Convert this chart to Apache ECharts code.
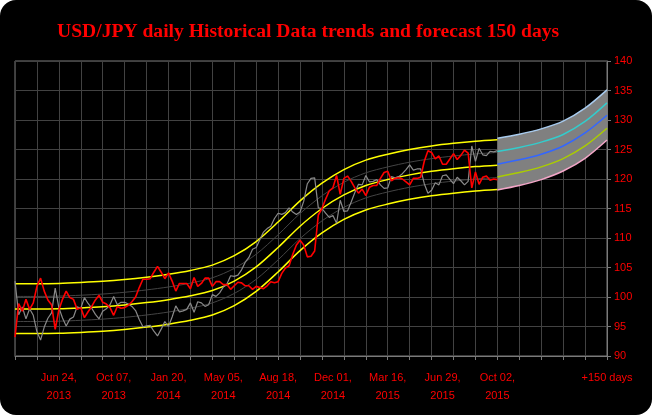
<!DOCTYPE html>
<html>
<head>
<meta charset="utf-8">
<script src="https://cdn.jsdelivr.net/npm/echarts@6/dist/echarts.min.js"></script>
<style>
  html, body { margin: 0; padding: 0; background: #ffffff; }
  #chart { width: 652px; height: 415px; background: #000000; border-radius: 16px; overflow: hidden; }
</style>
</head>
<body>
<div id="chart"></div>
<script>
// ---------- DATA ----------
const titleText = 'USD/JPY daily Historical Data trends and forecast 150 days';
const TOTAL_POINTS = 811;          // index 0 .. 810 (660 history + 150 forecast)
const HIST_STEP = 5;               // red / gray sampled every 5 points
const BAND_STEP = 30;              // trend band sampled every 30 points
const FC_START = 660;              // forecast starts here
const FC_STEP = 30;

const xTickIndex  = [60, 135, 210, 285, 360, 435, 510, 585, 660, 810];
const xTickLabels = ['Jun 24,\n2013', 'Oct 07,\n2013', 'Jan 20,\n2014', 'May 05,\n2014', 'Aug 18,\n2014',
                     'Dec 01,\n2014', 'Mar 16,\n2015', 'Jun 29,\n2015', 'Oct 02,\n2015', '+150 days'];

const redValues = [
  93.2, 98.9, 97.6, 99.6, 97.9, 99.0, 101.8, 103.2, 101.0, 99.5,
  98.7, 94.5, 97.8, 99.6, 101.0, 99.9, 99.6, 97.9, 98.2, 96.5,
  97.5, 98.4, 99.5, 100.3, 99.1, 98.8, 98.2, 96.9, 98.4, 98.1,
  98.2, 98.6, 99.2, 100.0, 101.6, 103.0, 103.0, 103.1, 104.2, 105.2,
  104.2, 103.1, 104.1, 102.7, 101.0, 102.3, 102.3, 102.3, 101.4, 103.3,
  101.8, 102.3, 103.2, 103.2, 101.8, 102.6, 102.6, 102.1, 102.1, 101.3,
  101.9, 102.5, 102.4, 101.9, 101.9, 101.3, 101.8, 101.6, 101.4, 101.9,
  102.6, 102.4, 102.6, 104.0, 104.9, 105.3, 107.2, 108.8, 109.6, 108.8,
  106.8, 106.9, 107.8, 113.9, 115.0, 116.6, 118.0, 118.5, 120.6, 117.4,
  120.1, 120.5, 119.6, 118.5, 117.6, 118.3, 117.2, 118.6, 118.9, 118.9,
  120.1, 121.1, 121.3, 119.7, 120.1, 120.2, 120.0, 119.5, 119.0, 120.1,
  120.1, 120.3, 123.0, 124.8, 124.5, 123.4, 123.9, 122.5, 122.5, 123.4,
  124.3, 123.3, 124.0, 124.9, 124.4, 118.5, 121.2, 119.1, 120.3, 120.5,
  119.8, 120.0, 119.9
];

const grayValues = [
  102.7, 97.0, 98.3, 96.3, 98.0, 96.9, 94.1, 92.7, 94.9, 96.4,
  97.3, 101.5, 98.2, 96.45, 95.1, 96.25, 96.6, 98.35, 98.1, 99.9,
  98.9, 98.1, 97.05, 96.3, 97.6, 98.0, 98.7, 100.1, 98.7, 99.1,
  99.1, 98.8, 98.4, 97.7, 96.2, 94.95, 95.1, 95.2, 94.2, 93.4,
  94.55, 95.85, 95.0, 96.6, 98.5, 97.45, 97.65, 97.9, 99.0, 97.4,
  99.2, 99.0, 98.4, 98.7, 100.4, 100.1, 100.7, 101.7, 102.2, 103.6,
  103.5, 103.7, 104.6, 105.9, 106.7, 108.1, 108.4, 109.7, 111.0, 111.6,
  112.0, 113.3, 114.2, 114.0, 114.3, 115.1, 114.4, 114.0, 114.4, 116.2,
  119.2, 120.1, 120.2, 115.1, 115.0, 114.2, 113.5, 113.8, 112.5, 116.4,
  114.5, 114.6, 116.1, 117.7, 119.1, 119.0, 120.6, 119.5, 119.6, 119.9,
  119.0, 118.4, 118.5, 120.4, 120.2, 120.4, 120.9, 121.6, 122.4, 121.5,
  121.7, 121.7, 119.2, 117.6, 118.1, 119.35, 119.0, 120.55, 120.7, 119.95,
  119.2, 120.3, 119.7, 119.0, 119.6, 125.6, 123.0, 125.2, 124.1, 123.95,
  124.7, 124.6, 124.8
];

const bandUpper = [102.25, 102.25, 102.3, 102.45, 102.65, 102.95, 103.35, 103.85, 104.5, 105.4, 107.0, 109.4,
                   112.7, 116.3, 119.3, 121.6, 123.2, 124.2, 125.0, 125.6, 126.05, 126.4, 126.65];
const bandInnerUpper = [100.1, 100.1, 100.15, 100.3, 100.5, 100.8, 101.2, 101.7, 102.35, 103.25, 104.85, 107.25,
                        110.55, 114.15, 117.15, 119.45, 121.05, 122.05, 122.85, 123.45, 123.9, 124.25, 124.5];
const bandMid = [97.95, 97.95, 98.0, 98.15, 98.35, 98.65, 99.05, 99.55, 100.2, 101.1, 102.7, 105.1,
                 108.4, 112.0, 115.0, 117.3, 118.9, 119.9, 120.7, 121.3, 121.75, 122.1, 122.35];
const bandInnerLower = [95.85, 95.85, 95.9, 96.05, 96.25, 96.55, 96.95, 97.45, 98.1, 99.0, 100.6, 103.0,
                        106.3, 109.9, 112.9, 115.2, 116.8, 117.8, 118.6, 119.2, 119.65, 120.0, 120.25];
const bandLower = [93.8, 93.8, 93.85, 94.0, 94.2, 94.5, 94.9, 95.4, 96.05, 96.95, 98.55, 100.95,
                   104.25, 107.85, 110.85, 113.15, 114.75, 115.75, 116.55, 117.15, 117.6, 117.95, 118.2];

const fcUpper = [126.9, 127.6, 128.5, 129.8, 132.0, 135.1];
const fcCyan  = [124.65, 125.35, 126.25, 127.55, 129.75, 132.9];
const fcBlue  = [122.5, 123.25, 124.2, 125.6, 127.8, 130.8];
const fcGreen = [120.35, 121.1, 122.05, 123.45, 125.6, 128.6];
const fcPink  = [118.15, 118.9, 119.9, 121.35, 123.5, 126.6];

// ---------- BUILD ----------
const categories = Array.from({ length: TOTAL_POINTS }, (_, i) => String(i));
const pairs = (arr, start, step) => arr.map((v, i) => [start + i * step, v]);

function lineSeries(name, data, color, width, smooth, z) {
  return {
    name, type: 'line', data, smooth: smooth ? 0.3 : false,
    showSymbol: false, symbol: 'none', silent: true, z: z || 2,
    lineStyle: { color, width }, emphasis: { disabled: true }
  };
}

const fcBandDiff = fcUpper.map((v, i) => v - fcPink[i]);

const series = [
  lineSeries('innerUpper', pairs(bandInnerUpper, 0, BAND_STEP), '#444444', 1, true, 2),
  lineSeries('innerLower', pairs(bandInnerLower, 0, BAND_STEP), '#444444', 1, true, 2),
  lineSeries('upper', pairs(bandUpper, 0, BAND_STEP), '#ffff00', 1.5, true, 3),
  lineSeries('mid', pairs(bandMid, 0, BAND_STEP), '#ffff00', 1.5, true, 3),
  lineSeries('lower', pairs(bandLower, 0, BAND_STEP), '#ffff00', 1.5, true, 3),
  lineSeries('gray', pairs(grayValues, 0, HIST_STEP), '#8a8a8a', 1.2, false, 4),
  lineSeries('red', pairs(redValues, 0, HIST_STEP), '#ff0000', 1.6, false, 5),
  {
    name: 'fcBase', type: 'line', stack: 'fc', data: pairs(fcPink, FC_START, FC_STEP), smooth: 0.3,
    showSymbol: false, symbol: 'none', silent: true, lineStyle: { width: 0, opacity: 0 }, z: 2
  },
  {
    name: 'fcBand', type: 'line', stack: 'fc', data: pairs(fcBandDiff, FC_START, FC_STEP), smooth: 0.3,
    showSymbol: false, symbol: 'none', silent: true, lineStyle: { width: 0, opacity: 0 },
    areaStyle: { color: '#808080', opacity: 1 }, z: 2
  },
  lineSeries('fcUpper', pairs(fcUpper, FC_START, FC_STEP), '#a8cbee', 1.5, true, 6),
  lineSeries('fcCyan', pairs(fcCyan, FC_START, FC_STEP), '#33cccc', 1.5, true, 6),
  lineSeries('fcBlue', pairs(fcBlue, FC_START, FC_STEP), '#3366ff', 1.5, true, 6),
  lineSeries('fcGreen', pairs(fcGreen, FC_START, FC_STEP), '#aacc00', 1.5, true, 6),
  lineSeries('fcPink', pairs(fcPink, FC_START, FC_STEP), '#f4a6c8', 1.5, true, 6)
];

const chart = echarts.init(document.getElementById('chart'), null, { renderer: 'canvas' });
chart.setOption({
  animation: false,
  backgroundColor: 'transparent',
  title: {
    text: titleText, left: 57, top: 22, padding: 0,
    textStyle: { color: '#ff0000', fontFamily: 'Liberation Serif', fontWeight: 'bold', fontSize: 19.6 }
  },
  grid: {
    left: 15, top: 61, width: 592, height: 295, show: true,
    borderColor: '#7a7a7a', borderWidth: 1, backgroundColor: 'transparent'
  },
  xAxis: {
    type: 'category', data: categories, boundaryGap: false,
    axisLine: { show: true, lineStyle: { color: '#7a7a7a' } },
    axisTick: { show: true, length: 4, interval: (i) => i % 30 === 0, lineStyle: { color: '#7a7a7a' } },
    splitLine: { show: true, interval: (i) => i % 30 === 0, lineStyle: { color: '#424242', width: 1 } },
    axisLabel: {
      interval: (i) => xTickIndex.indexOf(i) >= 0,
      formatter: (v) => { const k = xTickIndex.indexOf(Number(v)); return k >= 0 ? xTickLabels[k] : ''; },
      color: '#ff0000', fontSize: 11, lineHeight: 18, margin: 13, fontFamily: 'Liberation Sans'
    }
  },
  yAxis: {
    type: 'value', position: 'right', min: 90, max: 140, interval: 5,
    axisLine: { show: true, lineStyle: { color: '#7a7a7a' } },
    axisTick: { show: true, length: 4, lineStyle: { color: '#7a7a7a' } },
    splitLine: { show: true, lineStyle: { color: '#424242', width: 1 } },
    axisLabel: { color: '#ff0000', fontSize: 11, margin: 7, fontFamily: 'Liberation Sans' }
  },
  series
});
</script>
</body>
</html>
